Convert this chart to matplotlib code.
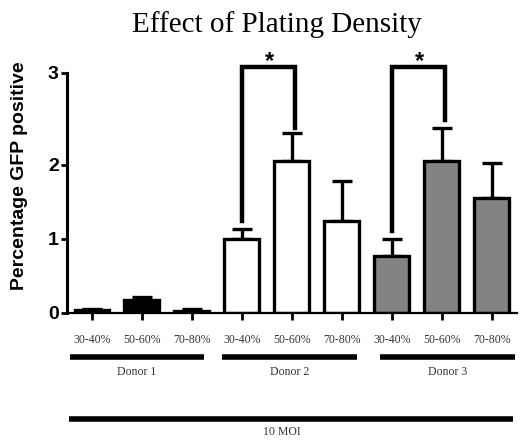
import numpy as np
import matplotlib
matplotlib.use('Agg')
import matplotlib.pyplot as plt

# data
densities = ['30-40%', '50-60%', '70-80%']
donors = ['Donor 1', 'Donor 2', 'Donor 3']
donor1 = [0.04, 0.17, 0.03]
donor1_err = [0.02, 0.04, 0.02]
donor2 = [1.0, 2.05, 1.24]
donor2_err = [0.13, 0.38, 0.54]
donor3 = [0.77, 2.05, 1.55]
donor3_err = [0.23, 0.45, 0.48]
donor_colors = ['black', 'white', '#838383']
# significance brackets: (bar a, bar b)
sig_pairs = [(3, 4), (6, 7)]

# y axis is stretched above 2.5 (axis break in the original)
BREAK = 2.5
K = 1.486


def fwd(y):
    y = np.asarray(y, dtype=float)
    return np.where(y <= BREAK, y, BREAK + (y - BREAK) * K)


def inv(y):
    y = np.asarray(y, dtype=float)
    return np.where(y <= BREAK, y, BREAK + (y - BREAK) / K)


fig = plt.figure(figsize=(5.21, 4.42), dpi=100)
ax = fig.add_axes([0.1286, 0.2919, 0.8637, 0.5430])
ax.set_yscale('function', functions=(fwd, inv))

vals = donor1 + donor2 + donor3
errs = donor1_err + donor2_err + donor3_err
x = np.arange(len(vals))
colors = [c for c in donor_colors for _ in densities]

ax.bar(x, vals, width=0.7, color=colors, edgecolor='black', linewidth=2.4, zorder=2)
ax.errorbar(x, vals, yerr=[np.zeros(len(errs)), errs], fmt='none', ecolor='black',
            elinewidth=2.4, capsize=7, capthick=2.4, zorder=1)

ax.set_xlim(-0.5, len(vals) - 0.5)
ax.set_ylim(0, 3)
ax.set_yticks([0, 1, 2, 3])
ax.set_yticklabels(['0', '1', '2', '3'], fontsize=14, fontweight='bold',
                   family='Liberation Sans')
ax.set_xticks(x)
ax.set_xticklabels(densities * len(donors), fontsize=8.5, family='Liberation Serif',
                   color='#333333')
ax.tick_params(axis='y', length=4, width=2, pad=2)
ax.tick_params(axis='x', length=5, width=2, pad=10)

for s in ['top', 'right']:
    ax.spines[s].set_visible(False)
ax.spines['left'].set_linewidth(2.2)
ax.spines['bottom'].set_linewidth(1.6)

# significance brackets
top = 3.057
for a, b in sig_pairs:
    ya = vals[a] + errs[a] + 0.11
    yb = vals[b] + errs[b] + 0.07
    ax.plot([a, a, b + 0.07, b + 0.07], [ya, top, top, yb], color='black', lw=3.2,
            solid_joinstyle='miter', clip_on=False, zorder=3)
    ax.text((a + b) / 2 + 0.05, 3.10, '*', ha='center', va='center', fontsize=17,
            fontweight='bold', family='Liberation Sans', clip_on=False)

# donor group lines and labels
trans = ax.get_xaxis_transform()
n = len(densities)
line_offsets = [(-0.44, 0.24), (-0.4, 0.3), (-0.24, 0.46)]
for i, d in enumerate(donors):
    x0 = i * n + line_offsets[i][0]
    x1 = i * n + n - 1 + line_offsets[i][1]
    ax.plot([x0, x1], [-0.183, -0.183], color='black', lw=4, transform=trans,
            clip_on=False, solid_capstyle='butt')
    ax.text((x0 + x1) / 2, -0.246, d, ha='center', va='center', fontsize=8.5,
            family='Liberation Serif', color='#333333', transform=trans)

ax.plot([-0.46, len(vals) - 0.58], [-0.442, -0.442], color='black', lw=4,
        transform=trans, clip_on=False, solid_capstyle='butt')
ax.text(3.8, -0.496, '10 MOI', ha='center', va='center', fontsize=8.5,
        family='Liberation Serif', color='#333333', transform=trans)

fig.text(0.532, 0.945, 'Effect of Plating Density', ha='center', va='center',
         fontsize=21, family='Liberation Serif')
fig.text(0.038, 0.602, 'Percentage GFP positive', ha='center', va='center',
         rotation=90, fontsize=14, fontweight='bold', family='Liberation Sans')

fig.savefig('out.png', dpi=100)
